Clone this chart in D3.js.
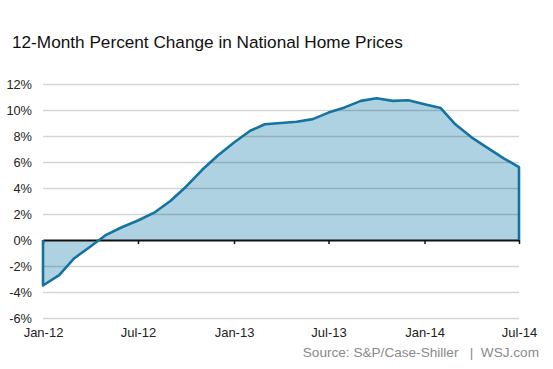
<!DOCTYPE html>
<html>
<head>
<meta charset="utf-8">
<script src="https://cdn.jsdelivr.net/npm/d3@7"></script>
<style>
  body { margin: 0; background: #fff; }
  svg { display: block; font-family: "Liberation Sans", Arial, sans-serif; }
</style>
</head>
<body>
<svg id="chart" width="553" height="369"></svg>
<script>
// months Jan-12 .. Jul-14
const months = d3.range(31).map(i => new Date(2012, i, 1));
const pctChange = [
  -3.5, -2.7, -1.4, -0.5, 0.4, 1.0, 1.5, 2.1, 3.0, 4.1, 5.4, 6.5,
  7.5, 8.4, 8.9, 9.0, 9.1, 9.3, 9.8, 10.2, 10.7, 10.9, 10.7, 10.75,
  10.45, 10.15, 8.9, 7.9, 7.1, 6.3, 5.6
];
const yTicks = [-6, -4, -2, 0, 2, 4, 6, 8, 10, 12];
const xTicks = [new Date(2012, 0, 1), new Date(2012, 6, 1), new Date(2013, 0, 1),
                new Date(2013, 6, 1), new Date(2014, 0, 1), new Date(2014, 6, 1)];

const title = '12-Month Percent Change in National Home Prices';
const source = 'Source: S&P/Case-Shiller   |  WSJ.com';

const margin = { top: 84, right: 34, bottom: 51, left: 43 };
const svg = d3.select('#chart');
const W = +svg.attr('width');
const width = W - margin.left - margin.right;

const x = d3.scaleTime()
  .domain([months[0], months[months.length - 1]])
  .range([margin.left, margin.left + width]);

const y = d3.scaleLinear()
  .domain([-6, 12])
  .range([318, 84]);

const data = months.map((d, i) => ({ date: d, v: pctChange[i] }));

svg.append('text')
  .attr('x', 12)
  .attr('y', 48)
  .attr('font-size', 17.2)
  .attr('fill', '#111')
  .text(title);

// area first, gridlines on top so they show through
const area = d3.area()
  .x(d => x(d.date))
  .y0(y(0))
  .y1(d => y(d.v));

svg.append('path')
  .datum(data)
  .attr('fill', '#aed2e2')
  .attr('d', area);

const axisY = d3.axisLeft(y)
  .tickValues(yTicks)
  .tickFormat(d => d + '%')
  .tickSize(-width)
  .tickPadding(11);

const gy = svg.append('g')
  .attr('transform', `translate(${margin.left},0)`)
  .call(axisY);
gy.select('.domain').remove();
gy.selectAll('.tick line')
  .attr('stroke', 'rgba(0,0,0,0.17)')
  .attr('stroke-width', 1.5);
gy.selectAll('.tick text')
  .attr('font-size', 12.8)
  .attr('fill', '#222')
  .attr('font-family', '"Liberation Sans", Arial, sans-serif');
gy.selectAll('.tick').filter(d => d === 0).select('line').remove();

// zero baseline with ticks
const axisX = d3.axisBottom(x)
  .tickValues(xTicks)
  .tickFormat(d3.timeFormat('%b-%y'))
  .tickSize(4)
  .tickSizeOuter(0)
  .tickPadding(84);

const gx = svg.append('g')
  .attr('transform', `translate(0,${y(0)})`)
  .call(axisX);
gx.select('.domain').attr('stroke', '#111').attr('stroke-width', 2);
gx.selectAll('.tick line').attr('stroke', '#111').attr('stroke-width', 1.5);
gx.selectAll('.tick text')
  .attr('font-size', 13)
  .attr('fill', '#222')
  .attr('font-family', '"Liberation Sans", Arial, sans-serif');

// outline incl. vertical edges
const outline = [{ date: months[0], v: 0 }, ...data, { date: months[months.length - 1], v: 0 }];
const line = d3.line()
  .x(d => x(d.date))
  .y(d => y(d.v));

svg.append('path')
  .datum(outline)
  .attr('fill', 'none')
  .attr('stroke', '#15749f')
  .attr('stroke-width', 2.6)
  .attr('stroke-linejoin', 'round')
  .attr('d', line);

svg.append('text')
  .attr('x', 539)
  .attr('y', 357)
  .attr('text-anchor', 'end')
  .attr('font-size', 13.6)
  .attr('fill', '#8a8a8a')
  .attr('xml:space', 'preserve')
  .style('white-space', 'pre')
  .text(source);
</script>
</body>
</html>
